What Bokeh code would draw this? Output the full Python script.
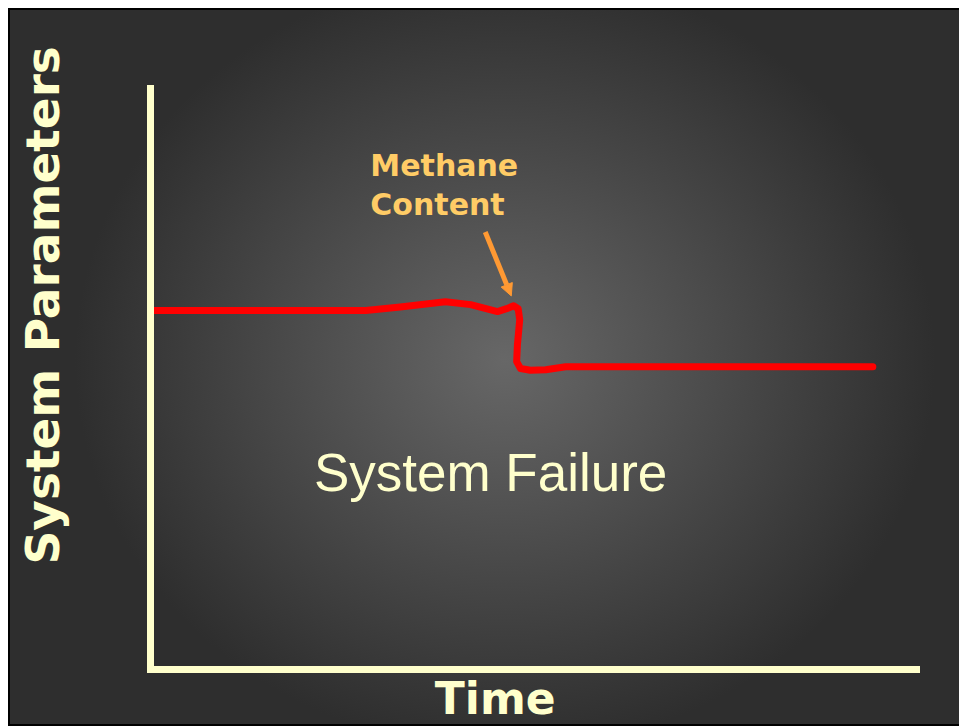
from bokeh.plotting import figure
from bokeh.models import Range1d, Label, Arrow, NormalHead, FixedTicker
from bokeh.embed import file_html
from bokeh.resources import INLINE

# ---- data (arbitrary units) ----
time = [0.3, 28.1, 32.6, 38.5, 41.8, 45.3, 46.5, 47.4, 48.0, 48.2, 47.9, 47.8,
        48.3, 49.6, 51.6, 54.2, 94.3]
param = [61.8, 61.8, 62.4, 63.3, 62.8, 61.6, 62.1, 62.6, 62.1, 60.2, 55.9, 53.0,
         51.8, 51.5, 51.6, 52.1, 52.1]

x_label = "Time"
y_label = "System Parameters"
note_lines = ["Methane", "Content"]
state_text = "System Failure"

# annotation anchors (data units)
note_x, note_y = [28.7, 28.7], [86.7, 80.0]
arrow_from = (43.7, 75.3)
arrow_to = (47.1, 64.3)
state_pos = (44.4, 33.9)

CREAM = "#FFFFCC"
ORANGE_TXT = "#FFCC66"
ORANGE_ARROW = "#FF9933"

p = figure(width=951, height=718, output_backend="svg", toolbar_location=None,
           x_range=Range1d(0, 100), y_range=Range1d(0, 100),
           min_border_left=142, min_border_right=43,
           min_border_top=80, min_border_bottom=55)

p.background_fill_alpha = 0
p.border_fill_alpha = 0
p.outline_line_color = None
p.xgrid.visible = False
p.ygrid.visible = False

p.styles = {
    "margin": "8px 0 0 8px",
    "background": "radial-gradient(ellipse 430px 390px at 497px 352px, #676767 0%, #2e2e2e 100%)",
    "box-shadow": "inset 2px 2px 0 0 #000000, inset 0 -2px 0 0 #000000",
}

for ax in (p.xaxis[0], p.yaxis[0]):
    ax.ticker = FixedTicker(ticks=[])
    ax.major_tick_line_color = None
    ax.minor_tick_line_color = None
    ax.major_label_text_font_size = "0px"
    ax.axis_line_color = CREAM
    ax.axis_line_width = 7
    ax.axis_line_cap = "square"
    ax.axis_label_text_font = "DejaVu Sans"
    ax.axis_label_text_font_style = "bold"
    ax.axis_label_text_color = CREAM

# vertical axis title (leading no-break spaces shift it up along the axis)
yax = p.yaxis[0]
yax.axis_label = "\u00a0" * 9 + y_label
yax.axis_label_standoff = 81
yax.axis_label_text_font_size = "47px"

# horizontal axis title (trailing no-break spaces shift it left along the axis)
xax = p.xaxis[0]
xax.axis_label = x_label + "\u00a0" * 5
xax.axis_label_standoff = 3
xax.axis_label_text_font_size = "44px"

# series
p.line(time, param, line_color="#FF0000", line_width=7, line_join="round", line_cap="round")

# annotation
for t, xx, yy in zip(note_lines, note_x, note_y):
    p.add_layout(Label(x=xx, y=yy, text=t, text_align="left", text_baseline="alphabetic",
                       text_font="DejaVu Sans", text_font_style="bold",
                       text_font_size="30px", text_color=ORANGE_TXT))

p.add_layout(Arrow(x_start=arrow_from[0], y_start=arrow_from[1],
                   x_end=arrow_to[0], y_end=arrow_to[1],
                   line_color=ORANGE_ARROW, line_width=5,
                   end=NormalHead(size=12, fill_color=ORANGE_ARROW, line_color=ORANGE_ARROW)))

p.add_layout(Label(x=state_pos[0], y=state_pos[1], text=state_text,
                   text_align="center", text_baseline="alphabetic",
                   text_font="Liberation Sans", text_font_size="53px",
                   text_color=CREAM))

open("out.html", "w").write(file_html(p, INLINE))
